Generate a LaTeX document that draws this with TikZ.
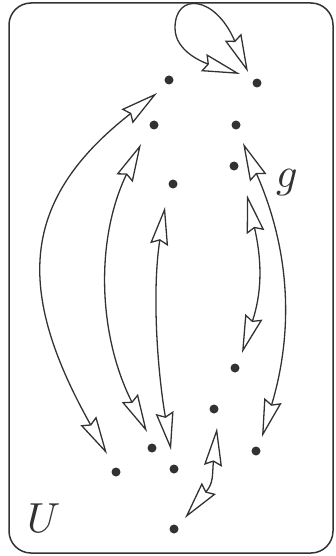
\documentclass[tikz,border=0pt]{standalone}
\usepackage{graphicx}
\usetikzlibrary{arrows.meta,calc}
\definecolor{ink}{RGB}{50,50,50}
\begin{document}
\begin{tikzpicture}[x=1pt,y=-1pt,
  >={Stealth[open,length=38pt,width=18pt,inset=4pt]},
  dot/.style={circle,fill=ink,inner sep=0pt,minimum size=9pt},
  dbl/.style={draw=ink,line width=1.3pt,<->},
  lbl/.style={inner sep=0pt,text=ink},
  frame/.style={draw=ink,line width=1.5pt,rounded corners=22pt}]
\useasboundingbox (0,0) rectangle (335,556);
\draw[frame] (9,3) rectangle (333,553);
% points
\node[dot] (A) at (169,80) {};
\node[dot] (B) at (257,83) {};
\node[dot] (C) at (154,125) {};
\node[dot] (D) at (236,125) {};
\node[dot] (E) at (234,166) {};
\node[dot] (F) at (173,184) {};
\node[dot] (G) at (235,368) {};
\node[dot] (I) at (214,409) {};
\node[dot] (J) at (152,448) {};
\node[dot] (K) at (256,451) {};
\node[dot] (L) at (116,472) {};
\node[dot] (M) at (174,469) {};
\node[dot] (N) at (174,529) {};
% labels
\node[lbl,anchor=base west] (gl) at (276,187) {\scalebox{4.2}{$g$}};
\node[lbl,anchor=base west] (Ul) at (27,532) {\scalebox{4.2}{$U$}};
% loop at B
\draw[dbl] ($(B)+(-17,-9)$) .. controls (205,63) and (175,52) .. (175,28)
  .. controls (175,-8) and (215,-5) .. ($(B)+(-9,-11)$);
% pairs
\draw[dbl] ($(A)+(-12,13)$) .. controls (20,200) and (15,290) .. ($(L)+(-9,-18)$);
\draw[dbl] ($(C)+(-13,19)$) .. controls (95,240) and (98,335) .. ($(J)+(-5,-16)$);
\draw[dbl] ($(F)+(-8,23)$) .. controls (152,290) and (157,368) .. ($(M)+(-3,-19)$);
\draw[dbl] ($(D)+(7,18)$) .. controls (290,250) and (294,330) .. ($(K)+(6,-14)$);
\draw[dbl] ($(E)+(13,29)$) .. controls (263,265) and (261,295) .. ($(G)+(7,-15)$);
\draw[dbl] ($(I)+(3,19)$) .. controls (212,475) and (214,482) .. ($(N)+(11,-11)$);
\end{tikzpicture}
\end{document}
